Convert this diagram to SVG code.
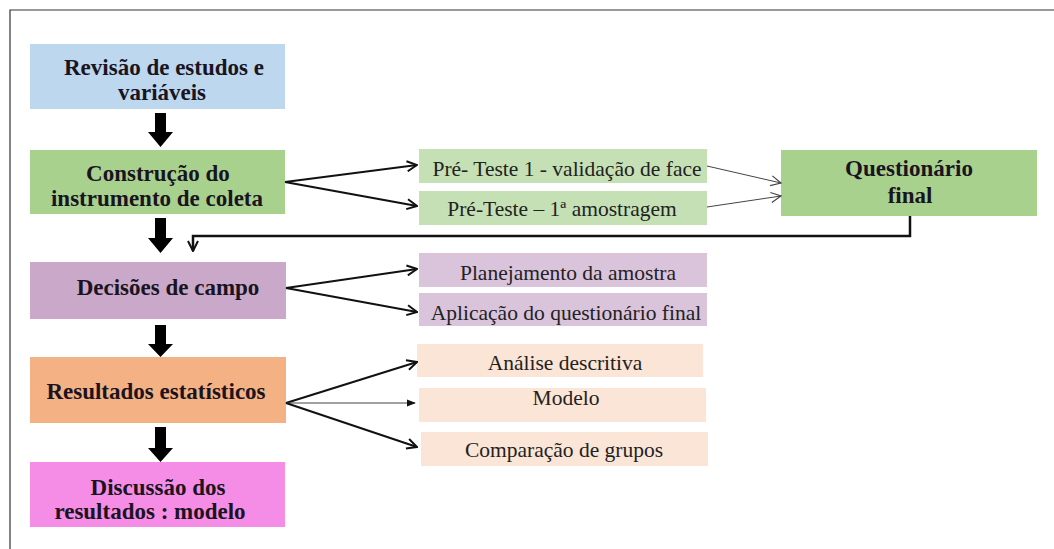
<svg xmlns="http://www.w3.org/2000/svg" width="1054" height="549" viewBox="0 0 1054 549">
  <defs>
    <style>
      .frame { stroke: #333; stroke-width: 1.2; fill: none; }
      .title { font-family: 'Liberation Serif', 'DejaVu Serif', serif; font-weight: bold; font-size: 23px; fill: #1a1420; text-anchor: middle; }
      .item { font-family: 'Liberation Serif', 'DejaVu Serif', serif; font-size: 21.5px; fill: #222; text-anchor: middle; }
      .link { stroke: #111; stroke-width: 2; fill: none; marker-end: url(#vhead); }
      .thin { stroke: #444; stroke-width: 1; fill: none; marker-end: url(#vheadThin); }
      .block { fill: #000; }
    </style>
    <marker id="vhead" viewBox="0 0 12 12" refX="11" refY="6" markerWidth="12" markerHeight="12" markerUnits="userSpaceOnUse" orient="auto">
      <path d="M1,1 L11,6 L1,11" fill="none" stroke="#111" stroke-width="2"/>
    </marker>
    <marker id="vheadThin" viewBox="0 0 12 12" refX="11" refY="6" markerWidth="12" markerHeight="12" markerUnits="userSpaceOnUse" orient="auto">
      <path d="M1,1 L11,6 L1,11" fill="none" stroke="#444" stroke-width="1.2"/>
    </marker>
    <marker id="solidhead" viewBox="0 0 10 10" refX="9" refY="5" markerWidth="9" markerHeight="9" markerUnits="userSpaceOnUse" orient="auto">
      <path d="M0,1 L10,5 L0,9 Z" fill="#111"/>
    </marker>
  </defs>

  <rect width="1054" height="549" fill="#fff"/>

  <!-- outer frame: top and left edges only -->
  <path class="frame" d="M10,549 L10,10 L1054,10"/>

  <!-- main column -->
  <g id="revisao">
    <rect x="30" y="44" width="255" height="65" fill="#bdd7ee"/>
    <text class="title" x="164" y="75">Revisão de estudos e</text>
    <text class="title" x="162" y="100">variáveis</text>
  </g>

  <g id="construcao">
    <rect x="30" y="150" width="255" height="64" fill="#a9d18e"/>
    <text class="title" x="158" y="181">Construção do</text>
    <text class="title" x="157" y="206">instrumento de coleta</text>
  </g>

  <g id="decisoes">
    <rect x="30" y="262" width="256" height="57" fill="#c9a8c9"/>
    <text class="title" x="168" y="295">Decisões de campo</text>
  </g>

  <g id="resultados">
    <rect x="30" y="357" width="256" height="66" fill="#f4b183"/>
    <text class="title" x="156" y="399">Resultados estatísticos</text>
  </g>

  <g id="discussao">
    <rect x="30" y="462" width="255" height="65" fill="#f58de6"/>
    <text class="title" x="158" y="495">Discussão dos</text>
    <text class="title" x="150" y="519">resultados : modelo</text>
  </g>

  <!-- pre-test branch -->
  <g id="preteste1">
    <rect x="419" y="149" width="288" height="34" fill="#c5e0b4"/>
    <text class="item" x="567" y="176">Pré- Teste 1 - validação de face</text>
  </g>
  <g id="preteste2">
    <rect x="419" y="191" width="288" height="34" fill="#c5e0b4"/>
    <text class="item" x="562" y="216">Pré-Teste – 1ª amostragem</text>
  </g>
  <g id="questionario">
    <rect x="781" y="150" width="256" height="66" fill="#a9d18e"/>
    <text class="title" x="909" y="176">Questionário</text>
    <text class="title" x="910" y="203">final</text>
  </g>

  <!-- field decisions branch -->
  <g id="planejamento">
    <rect x="419" y="253" width="288" height="34" fill="#dac4dc"/>
    <text class="item" x="568" y="280">Planejamento da amostra</text>
  </g>
  <g id="aplicacao">
    <rect x="419" y="293" width="288" height="33" fill="#dac4dc"/>
    <text class="item" x="566" y="320">Aplicação do questionário final</text>
  </g>

  <!-- statistics branch -->
  <g id="analise">
    <rect x="417" y="344" width="286" height="33" fill="#fbe5d6"/>
    <text class="item" x="565" y="370">Análise descritiva</text>
  </g>
  <g id="modelo">
    <rect x="419" y="388" width="287" height="34" fill="#fbe5d6"/>
    <text class="item" x="566" y="405">Modelo</text>
  </g>
  <g id="comparacao">
    <rect x="421" y="432" width="287" height="34" fill="#fbe5d6"/>
    <text class="item" x="564" y="457">Comparação de grupos</text>
  </g>

  <!-- connectors -->
  <g id="connectors">
    <!-- block arrows down the main column -->
    <polygon class="block" points="155,113 166,113 166,132 173,132 160.5,147 148,132 155,132"/>
    <polygon class="block" points="155,218 166,218 166,238 173,238 160.5,253 148,238 155,238"/>
    <polygon class="block" points="155,325 166,325 166,344 173,344 160.5,357 148,344 155,344"/>
    <polygon class="block" points="155,427 166,427 166,448 173,448 160.5,462 148,448 155,448"/>

    <!-- feedback from final questionnaire -->
    <path d="M910,216 L910,236 L193,236 L193,251" fill="none" stroke="#111" stroke-width="2.5" marker-end="url(#vhead)"/>

    <!-- construcao fan-out -->
    <path class="link" d="M285,182 L417,165"/>
    <path class="link" d="M285,182 L417,206"/>

    <!-- pre-tests to final questionnaire -->
    <path class="thin" d="M707,166 L781,183"/>
    <path class="thin" d="M707,207 L781,196"/>

    <!-- decisoes fan-out -->
    <path class="link" d="M286,288 L417,269"/>
    <path class="link" d="M286,288 L417,312"/>

    <!-- resultados fan-out -->
    <path class="link" d="M286,403 L417,362"/>
    <path d="M286,403 L415,403" fill="none" stroke="#444" stroke-width="1.2" marker-end="url(#solidhead)"/>
    <path class="link" d="M286,403 L417,447"/>
  </g>
</svg>
